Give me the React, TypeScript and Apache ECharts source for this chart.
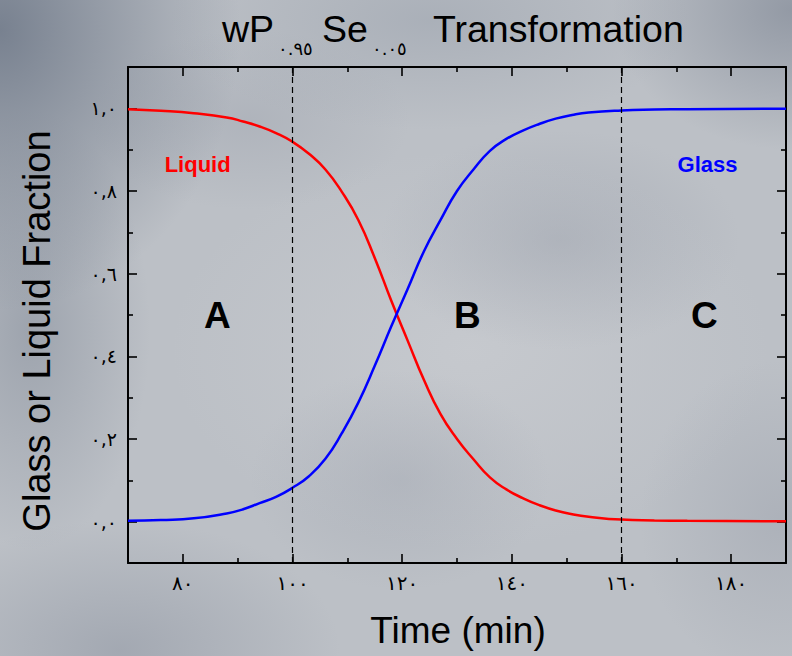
import React, { useEffect, useRef } from "react";
import * as echarts from "echarts";

// Time axis (minutes) and the two phase fractions sampled along it
const times = [70, 76, 82, 88, 91, 94, 97, 100, 103, 106, 109, 112, 115, 118, 121, 124, 127, 130, 133, 136, 139, 142, 145, 148, 151, 154, 160, 166, 172, 190];
const liquidFraction = [0.998, 0.994, 0.988, 0.978, 0.968, 0.956, 0.94, 0.919, 0.89, 0.852, 0.798, 0.73, 0.638, 0.535, 0.438, 0.342, 0.26, 0.2, 0.151, 0.107, 0.078, 0.057, 0.04, 0.027, 0.018, 0.012, 0.005, 0.003, 0.002, 0.001];
const glassFraction = [0.002, 0.004, 0.008, 0.02, 0.03, 0.045, 0.06, 0.082, 0.11, 0.152, 0.214, 0.288, 0.377, 0.472, 0.563, 0.655, 0.73, 0.8, 0.852, 0.897, 0.926, 0.946, 0.962, 0.975, 0.984, 0.99, 0.995, 0.997, 0.998, 0.999];

// Axis ticks and their Arabic-Indic labels
const xMajorTicks = [80, 100, 120, 140, 160, 180];
const xMinorTicks = [90, 110, 130, 150, 170];
const xTickLabels = ["٨٠", "١٠٠", "١٢٠", "١٤٠", "١٦٠", "١٨٠"];
const yMajorTicks = [0, 0.2, 0.4, 0.6, 0.8, 1.0];
const yMinorTicks = [0.1, 0.3, 0.5, 0.7, 0.9];
const yTickLabels = ["٠,٠", "٠,٢", "٠,٤", "٠,٦", "٠,٨", "١,٠"];

// Stage boundaries (min)
const stageBoundaries = [100, 160];

// Region and phase annotations, in data coordinates
const regionNames = ["A", "B", "C"];
const regionTimes = [86.3, 131.9, 175.1];
const regionLevel = 0.5;
const phaseNames = ["Liquid", "Glass"];
const phaseTimes = [82.7, 175.7];
const phaseLevel = 0.865;
const phaseColors = ["#ff0000", "#0000ff"];

const X_MIN = 70;
const X_MAX = 190;
const Y_MIN = -0.1;
const Y_MAX = 1.1;

const LATIN = "'Liberation Sans', Arial, Helvetica, sans-serif";
const ARABIC_DIGITS = "'DejaVu Sans', sans-serif";

function xAxisDef(position: "top" | "bottom", ticks: number[], len: number, main: boolean, labels: boolean) {
  return {
    type: "value",
    position,
    min: X_MIN,
    max: X_MAX,
    splitLine: { show: false },
    axisLine: { show: main, onZero: false, lineStyle: { color: "#000", width: 2 } },
    axisTick: { show: true, inside: true, length: len, customValues: ticks, lineStyle: { color: "#000", width: 1.6 } },
    axisLabel: labels
      ? {
          show: true,
          customValues: ticks,
          margin: 10,
          fontSize: 20,
          color: "#000",
          fontFamily: ARABIC_DIGITS,
          formatter: (v: number) => xTickLabels[xMajorTicks.findIndex((t) => Math.abs(t - v) < 1e-6)] ?? "",
        }
      : { show: false },
  };
}

function yAxisDef(position: "left" | "right", ticks: number[], len: number, main: boolean, labels: boolean) {
  return {
    type: "value",
    position,
    min: Y_MIN,
    max: Y_MAX,
    splitLine: { show: false },
    axisLine: { show: main, onZero: false, lineStyle: { color: "#000", width: 2 } },
    axisTick: { show: true, inside: true, length: len, customValues: ticks, lineStyle: { color: "#000", width: 1.6 } },
    axisLabel: labels
      ? {
          show: true,
          customValues: ticks,
          margin: 11,
          fontSize: 19,
          color: "#000",
          fontFamily: ARABIC_DIGITS,
          formatter: (v: number) => yTickLabels[yMajorTicks.findIndex((t) => Math.abs(t - v) < 1e-6)] ?? "",
        }
      : { show: false },
  };
}

export default function App() {
  const ref = useRef<HTMLDivElement>(null);

  useEffect(() => {
    document.body.style.margin = "0";
    const el = ref.current;
    if (!el) return;
    const chart = echarts.init(el, null, { renderer: "svg" });

    const titleParts = [
      { text: "wP", x: 222, y: 29, size: 37.5, font: LATIN },
      { text: "٠.٩٥", x: 278, y: 48, size: 18, font: ARABIC_DIGITS },
      { text: "Se", x: 322, y: 29, size: 37.5, font: LATIN },
      { text: "٠.٠٥", x: 372, y: 48, size: 18, font: ARABIC_DIGITS },
      { text: "Transformation", x: 433, y: 29, size: 37.5, font: LATIN },
    ];

    const baseGraphic: any[] = [
      ...titleParts.map((p) => ({
        type: "text",
        x: p.x,
        y: p.y,
        silent: true,
        style: { text: p.text, fill: "#000", fontSize: p.size, fontFamily: p.font, align: "left", verticalAlign: "middle" },
      })),
      {
        type: "text",
        x: 458,
        y: 630,
        silent: true,
        style: { text: "Time (min)", fill: "#000", fontSize: 37, fontFamily: LATIN, align: "center", verticalAlign: "middle" },
      },
      {
        type: "text",
        x: 37,
        y: 331,
        rotation: Math.PI / 2,
        silent: true,
        style: { text: "Glass or Liquid Fraction", fill: "#000", fontSize: 38, fontFamily: LATIN, align: "center", verticalAlign: "middle" },
      },
    ];

    chart.setOption({
      animation: false,
      backgroundColor: "transparent",
      grid: { left: 128, top: 67, right: 6, bottom: 93, show: false },
      xAxis: [
        xAxisDef("bottom", xMajorTicks, 9, true, true),
        xAxisDef("bottom", xMinorTicks, 5, false, false),
        xAxisDef("top", xMajorTicks, 9, true, false),
        xAxisDef("top", xMinorTicks, 5, false, false),
      ],
      yAxis: [
        yAxisDef("left", yMajorTicks, 9, true, true),
        yAxisDef("left", yMinorTicks, 5, false, false),
        yAxisDef("right", yMajorTicks, 9, true, false),
        yAxisDef("right", yMinorTicks, 5, false, false),
      ],
      series: [
        {
          name: "Liquid",
          type: "line",
          xAxisIndex: 0,
          yAxisIndex: 0,
          data: times.map((t, i) => [t, liquidFraction[i]]),
          showSymbol: false,
          smooth: 0.5,
          lineStyle: { color: "#ff0000", width: 2.5 },
          markLine: {
            silent: true,
            symbol: "none",
            label: { show: false },
            lineStyle: { color: "#000", width: 1.2, type: [6, 4] },
            data: stageBoundaries.map((b) => ({ xAxis: b })),
          },
          z: 3,
        },
        {
          name: "Glass",
          type: "line",
          xAxisIndex: 0,
          yAxisIndex: 0,
          data: times.map((t, i) => [t, glassFraction[i]]),
          showSymbol: false,
          smooth: 0.5,
          lineStyle: { color: "#0000ff", width: 2.5 },
          z: 4,
        },
      ],
      graphic: baseGraphic,
    });

    const toPx = (x: number, y: number) =>
      chart.convertToPixel({ xAxisIndex: 0, yAxisIndex: 0 }, [x, y]) as number[];

    const annotations: any[] = [
      ...regionNames.map((n, i) => {
        const [px, py] = toPx(regionTimes[i], regionLevel);
        return {
          type: "text",
          x: px,
          y: py,
          silent: true,
          style: { text: n, fill: "#000", fontSize: 37, fontWeight: "bold", fontFamily: LATIN, align: "center", verticalAlign: "middle" },
        };
      }),
      ...phaseNames.map((n, i) => {
        const [px, py] = toPx(phaseTimes[i], phaseLevel);
        return {
          type: "text",
          x: px,
          y: py,
          silent: true,
          style: { text: n, fill: phaseColors[i], fontSize: 22, fontWeight: "bold", fontFamily: LATIN, align: "center", verticalAlign: "middle" },
        };
      }),
    ];

    chart.setOption({ graphic: [...baseGraphic, ...annotations] });

    return () => chart.dispose();
  }, []);

  const sky = [
    "radial-gradient(ellipse 240px 280px at 0px 30px, rgba(108,118,134,0.85), rgba(108,118,134,0) 100%)",
    "radial-gradient(ellipse 180px 140px at 792px 10px, rgba(125,133,147,0.65), rgba(125,133,147,0) 100%)",
    "radial-gradient(ellipse 120px 220px at 30px 330px, rgba(132,140,153,0.55), rgba(132,140,153,0) 100%)",
    "radial-gradient(ellipse 220px 130px at 120px 650px, rgba(138,145,158,0.5), rgba(138,145,158,0) 100%)",
    "radial-gradient(ellipse 260px 110px at 430px 20px, rgba(148,156,168,0.45), rgba(148,156,168,0) 100%)",
    "radial-gradient(ellipse 180px 110px at 560px 240px, rgba(148,154,166,0.38), rgba(148,154,166,0) 100%)",
    "radial-gradient(ellipse 160px 90px at 250px 120px, rgba(148,154,166,0.32), rgba(148,154,166,0) 100%)",
    "radial-gradient(ellipse 150px 110px at 400px 480px, rgba(150,156,168,0.32), rgba(150,156,168,0) 100%)",
    "radial-gradient(ellipse 140px 160px at 780px 520px, rgba(148,154,166,0.38), rgba(148,154,166,0) 100%)",
    "radial-gradient(ellipse 300px 200px at 470px 350px, rgba(206,208,212,0.55), rgba(206,208,212,0) 100%)",
  ].join(", ");

  return (
    <div
      ref={ref}
      style={{
        position: "absolute",
        left: 0,
        top: 0,
        width: 792,
        height: 656,
        backgroundColor: "#bcc0c6",
        backgroundImage: sky,
      }}
    />
  );
}
